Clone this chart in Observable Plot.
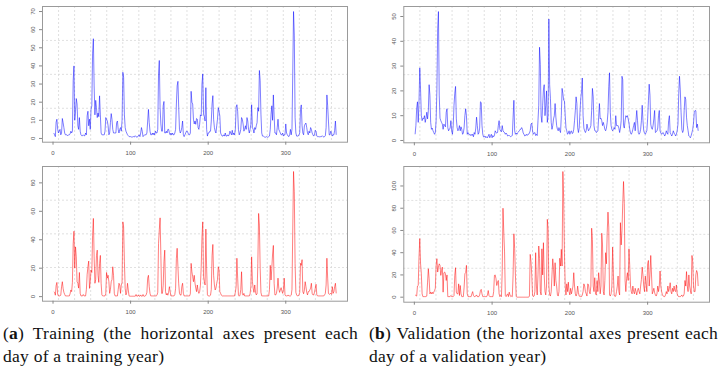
<!DOCTYPE html>
<html>
<head>
<meta charset="utf-8">
<script src="https://cdn.jsdelivr.net/npm/d3@7"></script>
<script src="https://cdn.jsdelivr.net/npm/@observablehq/plot@0.6"></script>
<style>
  html, body { margin: 0; padding: 0; background: #fff; }
  #root { position: relative; width: 727px; height: 374px; overflow: hidden; }
  .panel { position: absolute; }
  .cap { position: absolute; font-family: "Liberation Serif", "DejaVu Serif", serif; font-size: 17.5px; letter-spacing: 0.25px; line-height: 23px; color: #111; }
  .cap .l1 { white-space: nowrap; text-align: justify; text-align-last: justify; }
  .cap .l2 { white-space: nowrap; }
</style>
</head>
<body>
<div id="root"></div>
<script>
// Training year: input series (blue) and output series (red), one value per day
const trainIn = [
3,2,1,9,10.6,5,3,4,5,2,
3,11,8.7,6,3,2,2,2,1.5,2,
2,2.5,4,3,4,32,40,10,15,22,
19,7,5,11.5,4,2,1.5,1.5,2,1.5,
1.5,3,2,12.5,15,7,10.6,5,16,18,
47,55,29,13,21,17,11.5,14,12,23.5,
13,3,2,2,2,2,4,11.5,10.5,9.6,
7,2,3,8.7,13.7,10.5,5,3,3,3,
3,8.7,9.6,5,3,5,6,4,10,36.5,
33.8,13,6,4,3,2,1.5,1,1,1,
0.8,0.7,1,1,0.8,1.5,1,0.7,0.8,1.5,
2,1,3,6,4,1,1.5,2,2,2,
3,9.6,16,8.7,4,2,2,3,2,3,
2,4,3,3,5,35.6,43,17,8,4,
4,18,20.4,3,3,4,3,5,5,3,
2,3,2,3,2,2,3,5,19,29,
31.5,17,5,3,4,6,9.6,2,1,2,
3,4,4,3,2,2,3,26,20,19,
10.6,8,9.6,7.8,11,10.6,6,5,7.8,13,
12.4,30,35.6,13.4,12,9.6,28,5,1.3,3,
3,4,4,9.6,19,23.6,10.6,6,4,3,
7,10.6,17,15,12.4,3,2,1.3,1.3,2,
1.3,3,1.3,1.3,2,1.3,2,4,3,2,
4.5,2,3,2,5,17,18.6,15,5,2,
3,5,11.5,10.6,8,4,5,7,5,11.5,
9.6,5,3,5,7.8,18.6,6,5,3,6,
5,7,8.7,17,15,37.5,32,13.4,3,1.3,
1.3,1,0.7,0.7,1,0.7,0.7,1,1.3,5,
13.4,18,10,24,12.4,3,3,2,6,10.6,
5,4,3,2,2,3,1.3,2,2,8,
3,2,1.3,1,2,5,2,5,36,70,
57,11.5,3,1.3,1.3,1.3,2,3,16,18.5,
7,3,2,7,8,8.5,6,3,2,4,
3,6,5,3,2,1.3,2,4.5,4,1.3,
1,1,1,0.8,1,1,1.5,1,0.8,1,
1.5,6,24,18,9.6,2,2,4,3,1.3,
2,2,4.5,9.6,2
];
const trainOut = [
3.5,3,1,7.7,10,1.6,0.5,0.5,0.5,1,
7,10.5,5.8,3,1.6,0.5,0.5,0.5,0.5,0.5,
0.5,2,4.7,3.5,10,37.4,46,20,35,28,
10.5,9.4,6,17,2.3,0.5,0.5,0.5,1.5,0.5,
0.5,0.5,5,15.7,21,25,5.8,10.5,18.7,17,
43,55,28,9.4,12,28.8,32.7,15,10,23.4,
29,9.4,1.2,0.5,0.5,0.5,0.5,2,17,13,
15,10.5,2.3,5,10.5,12,21,15,2.3,0.5,
0.5,0.5,0.5,5,9.4,8.2,2.3,8.2,10,52.6,
49,24.6,5.8,1.2,3,9.4,4.7,0.5,0.3,0.3,
0.3,0.3,0.3,0.3,0.3,0.3,1.5,0.3,0.3,1.2,
0.3,0.3,1.2,0.3,0.3,1.5,0.3,0.3,0.5,1.2,
3,13,15,7,2.3,0.5,0.5,0.5,0.5,0.5,
0.5,0.5,0.5,1,3,37.4,47,55.4,29,2.3,
2.3,8,24.6,32.7,3.5,1.2,2.3,1,3,7,
3.5,0.5,0.5,0.5,0.5,0.5,1.5,5.8,27,34,
21,9,2.3,1.2,1,7,9.4,2.3,0.5,0.5,
0.5,0.5,0.5,0.5,0.5,0.5,2,23.4,17.5,14,
10.5,15,9.4,6,3.5,8.2,4,2.3,3.5,8,
21,42,52.6,14,10.5,8.2,47.5,20,1.2,0.5,
0.5,0.5,1,5,28.8,36.7,15,8.2,4.7,6,
9.4,12,21,18.7,3.5,2.3,1,0.5,0.5,0.5,
0.5,0.5,0.5,0.5,0.5,0.5,0.5,0.5,0.5,0.5,
0.5,0.5,0.5,0.5,3,7,27,13,1.2,0.3,
1,5,17.5,2.3,1,2.3,0.5,0.5,0.5,0.5,
0.5,0.5,0.5,2,7,28,10.5,5.8,3,8.2,
3,1.2,2,23.4,58.5,50.3,20,3,0.5,0.5,
0.5,0.5,0.5,0.5,0.5,0.5,0.5,0.5,5,22,
11.7,20,30,36,9.4,1.2,1.2,2.3,6,13,
5.8,3,4.7,6.3,4,2.3,5,13,1.2,0.5,
0.5,0.5,1.2,0.5,0.5,0.5,1,5,46.8,88,
73.7,23.4,3,1.2,0.5,0.5,1.2,3,23.4,22,
26,3.5,2,4.7,10.5,7,3,1.2,3.5,3.5,
4.7,6,9.4,2.3,1.2,1.2,3,5.8,8.7,1.2,
0.5,0.5,0.5,0.5,0.5,0.5,0.5,0.5,0.5,1.2,
2.3,8.2,27,13,2.3,1.6,2,2.3,1.6,7,
2.3,3.5,7,9.4,2.3
];
// Validation year
const validIn = [
2.5,6,13,15.6,7.3,15.6,29.3,20.4,10,8,
9,8.7,10,7.3,9,11.4,8.7,12,22.5,18.3,
7.3,4.5,5,3.9,3.2,2.5,3.2,8,20.4,45,
52,18.3,9,8,7.3,6.6,4.5,6.6,6,5.5,
11.4,12.8,5.2,3.9,4.5,5,8,3.9,2.5,6,
14.2,19,21.8,8.7,5.2,3.9,4.5,6,3.9,5.5,
4.5,2.5,3,5.2,10,12.8,10,2.5,3.2,2.5,
2.5,2,2.5,2,2.5,1.5,3.2,2.5,5,9.4,
6,2.5,3,5,15.6,15.3,6,2.5,1.4,1.4,
1.8,1.1,1.5,1.1,1.8,2.5,1.1,1.8,2.5,1.1,
2,1.5,2,3.9,3.2,3,3.2,6,8,4.5,
3.9,3.5,6,4,3.4,3.2,2.5,3,2.5,1.8,
2,2,1.8,1.5,1.8,2,9.4,16.2,3.9,2.5,
3,2.5,3.2,3.5,3.9,4.5,4.5,5.2,4.5,3,
2.5,1.8,2,2.5,2,2.5,2.5,3,3.9,6.6,
7,3.9,2.5,3,3.2,2,2.5,2,8,14.2,
37.6,30.7,10,7.3,14.2,20.4,22.5,10,14.2,20,
7.3,10,49,22.5,17,7.3,4.5,6,8.7,10,
14.9,9.4,6,4.5,3.9,5.2,4,3.2,10,21,
19,16.2,16,10,5,3.9,2.5,3,3.9,2.5,
3.5,3.9,2.8,3,4.5,8,12,17.6,14.9,5.2,
3.2,5,11.4,17,19.7,25.2,10,5,3.9,3.2,
4,6.6,5,3.9,4.5,5,6,12,21,17.6,
6,4,3.9,3.2,3.5,3.9,9.4,14.9,8.7,9,
8,6,7.3,6,4.5,3.9,5,7.3,11.4,21.8,
27.3,11.4,6,4.5,3.9,4.5,5.2,4.5,10,6,
6,6,5,3.2,5,8,25.9,24.5,6,5,
8,10,9.4,10,8.7,7,4.5,3,2.5,3.2,
4.5,6,7.3,3.9,8,12.1,8,3.2,2.5,3,
4.5,8,14.2,8,3.9,3,2.5,3.2,4,8.7,
16,22.7,18.3,6.6,5,4.5,6,8.7,12.1,3.2,
3.5,3.9,5,10,12.1,3.9,3,2.5,3,3.2,
2.5,1.8,2.5,3.9,3,2.5,8,10,3.2,2.5,
1.8,2.5,3.9,3,2.5,1.8,2.5,3.9,6.6,19,
25.9,20.4,11.4,4.5,3.2,4,12.1,17.6,16.5,9.4,
6,4,1.8,1.5,1.1,2,3.2,4.5,7,11.4,
12.1,12,5.2,6.6,3.9
];
const validOut = [
2,1.5,1,10,10.5,36,52.7,30,21,3,
0.5,0.5,0.5,0.5,0.5,1,13.5,25.6,16.6,3,
4.5,3,4.5,3,4.5,6,8,28.6,34.6,22.6,
27,30,28.6,19.6,24,27,4.5,22,22.6,21,
15,20,0.5,0.5,0.5,0.5,1.5,0.5,0.5,0.5,
1.5,19.6,26.5,4.5,3,3,12,1.5,10.5,3,
0.5,0.5,0.5,9,21,22,28.6,3,0.5,0.5,
0.5,0.5,0.5,3,5,1.5,0.5,0.5,1,2,
0.5,0.5,0.5,2,6,7,3,0.5,0.5,0.5,
0.5,0.5,0.5,2,6,1.5,0.5,0.5,0.5,0.5,
0.5,5,19.6,20,16.6,10.5,13.5,15,3,0.5,
1.5,0.5,23,80,58.7,40.7,1.5,0.5,2,3,
0.5,4.5,2,0.5,1,0.5,20,57,43.7,19.6,
0.5,0,0,0,0,0,0,0,0,0,
0,0,0,0,0,0,0,1,38.5,32,
20,2,0.5,1,5,40,10,2,20,46,
35,5,2,43.5,20,49,20,5,2,10,
70,61,10,2,1,5,20,34.5,25,10,
31,15,10,2,1,5,35,28,43,28,
113,89,40,10,2,12,5,13.5,5,2,
8,3,6,10,22,10,3,1,3,10,
4,1,0.5,0.5,0.5,2,5,12,10,5,
3,1,12,11,5,3,10,62,52,10,
5,17.5,3,2,15,5,22,14.5,3,10,
57.5,47,5,2,15,40,30,58,76.5,63,
2,1,3,10,45,20,2,0.5,1,5,
10,19,5,2,67,47,60,84,104,84,
15,5,17,22,15,43.5,28,10,5,3,
10,5,3,8,5,2,6,8,5,3,
10,16,27,20,10,5,19,12,5,30,
33,10,20,37.5,20,3,5,8,4,2,
1,3,10,5,10,23.5,10,5,2,1,
0.5,0.5,2,5,3,10,5,8,13,5,
3,8,5,10,6,5,11,3,1,0.5,
0.5,0.5,1,2,0.5,1,3,15,10,23,
10,5,20,10,6,3,37.5,32,10,5,
5,20,24,22,10
];

const xTicks = [0, 100, 200, 300];
const yTicksTrainIn = [0, 10, 20, 30, 40, 50, 60, 70];
const yTicksTrainOut = [0, 20, 40, 60, 80];
const yTicksValidIn = [0, 10, 20, 30, 40, 50];
const yTicksValidOut = [0, 20, 40, 60, 80, 100];

const BLUE = "rgb(0,0,255)";
const RED = "rgb(255,0,0)";

function panel(values, color, yTicks, box) {
  const n = values.length;
  const xd = [1 - 0.04 * (n - 1), n + 0.04 * (n - 1)];
  const ext = d3.extent(values);
  const pad = 0.04 * (ext[1] - ext[0]);
  const yd = [ext[0] - pad, ext[1] + pad];
  const gx = d3.range(1, 19).map(k => xd[0] + k * (xd[1] - xd[0]) / 19);
  const gy = d3.range(1, 4).map(k => yd[0] + k * (yd[1] - yd[0]) / 4);
  const pts = values.map((v, i) => ({day: i + 1, v}));
  const segs = d3.pairs(pts).map(([a, b]) => ({x1: a.day, y1: a.v, x2: b.day, y2: b.v}));
  const p = Plot.plot({
    width: box.w, height: box.h,
    marginLeft: box.ml, marginRight: box.mr, marginTop: box.mt, marginBottom: box.mb,
    style: {background: "transparent", overflow: "visible"},
    x: {domain: xd},
    y: {domain: yd},
    marks: [
      Plot.ruleX(gx, {stroke: "#d8d8d8", strokeDasharray: "2,2", strokeWidth: 0.8}),
      Plot.ruleY(gy, {stroke: "#d8d8d8", strokeDasharray: "2,2", strokeWidth: 0.8}),
      Plot.link(segs, {x1: "x1", y1: "y1", x2: "x2", y2: "y2", stroke: color, strokeOpacity: 0.5, strokeWidth: 1, strokeLinecap: "butt"}),
      Plot.frame({stroke: "#9a9a9a", strokeWidth: 1}),
      Plot.axisX(xTicks, {tickSize: 3, tickPadding: 6, fontSize: 6, stroke: "#888", color: "#555", fontFamily: "Liberation Sans, Arial, sans-serif"}),
      Plot.axisY(yTicks, {tickSize: 3, tickPadding: 5, tickRotate: -90, fontSize: 6, stroke: "#888", color: "#555", fontFamily: "Liberation Sans, Arial, sans-serif"})
    ]
  });
  p.classList.add("panel");
  p.style.left = box.left + "px";
  p.style.top = box.top + "px";
  p.style.position = "absolute";
  return p;
}

const root = document.getElementById("root");
root.appendChild(panel(trainIn, BLUE, yTicksTrainIn, {left: 0, top: 0, w: 360, h: 160, ml: 42, mr: 13, mt: 6, mb: 18.3}));
root.appendChild(panel(trainOut, RED, yTicksTrainOut, {left: 0, top: 160, w: 360, h: 160, ml: 42, mr: 13, mt: 6, mb: 19.3}));
root.appendChild(panel(validIn, BLUE, yTicksValidIn, {left: 360, top: 0, w: 367, h: 160, ml: 43.3, mr: 18, mt: 6, mb: 17.7}));
root.appendChild(panel(validOut, RED, yTicksValidOut, {left: 360, top: 160, w: 367, h: 160, ml: 43.3, mr: 18, mt: 6, mb: 18.3}));

function caption(left, width, label, line1, line2) {
  const c = document.createElement("div");
  c.className = "cap";
  c.style.left = left + "px";
  c.style.top = "322px";
  const a = document.createElement("div");
  a.className = "l1";
  a.style.width = width + "px";
  a.innerHTML = "(<b>" + label + "</b>) " + line1;
  const b = document.createElement("div");
  b.className = "l2";
  b.textContent = line2;
  c.appendChild(a); c.appendChild(b);
  root.appendChild(c);
}
caption(3, 355, "a", "Training (the horizontal axes present each", "day of a training year)");
caption(369, 349, "b", "Validation (the horizontal axes present each", "day of a validation year)");
</script>
</body>
</html>
